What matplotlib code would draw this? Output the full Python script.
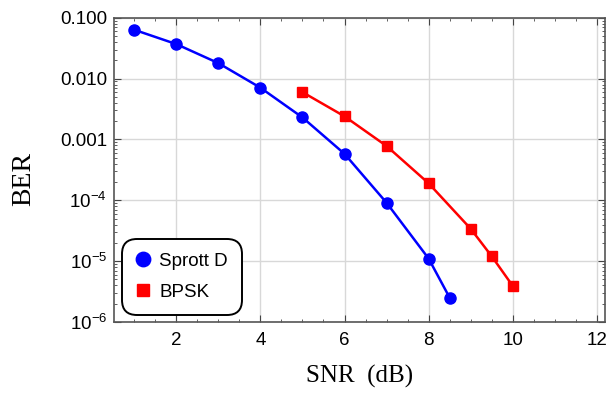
import numpy as np
import matplotlib.pyplot as plt
from matplotlib.ticker import FixedLocator, MultipleLocator, LogLocator, NullFormatter

# Sprott D curve
snr_sprott = [1, 2, 3, 4, 5, 6, 7, 8, 8.5]
ber_sprott = [0.0636, 0.037, 0.018, 0.0071, 0.0023, 0.00058, 9.1e-5, 1.1e-5, 2.5e-6]

# BPSK curve
snr_bpsk = [5, 6, 7, 8, 9, 9.5, 10]
ber_bpsk = [0.006, 0.0024, 0.00078, 0.00019, 3.4e-5, 1.2e-5, 3.9e-6]

y_ticks = [1e-6, 1e-5, 1e-4, 1e-3, 1e-2, 1e-1]
y_labels = ["$10^{-6}$", "$10^{-5}$", "$10^{-4}$", "0.001", "0.010", "0.100"]

plt.rcParams["mathtext.fontset"] = "custom"
plt.rcParams["mathtext.rm"] = "Liberation Sans"
plt.rcParams["mathtext.it"] = "Liberation Sans:italic"

fig = plt.figure(figsize=(6.11, 3.96), dpi=100)
ax = fig.add_axes([0.1866, 0.187, 0.8034, 0.768])

ax.plot(snr_sprott, ber_sprott, color="#0000ff", lw=1.8, marker="o", ms=8,
        label="Sprott D")
ax.plot(snr_bpsk, ber_bpsk, color="#ff0000", lw=1.8, marker="s", ms=6.5,
        label="BPSK")

ax.set_yscale("log")
ax.set_xlim(0.52, 12.19)
ax.set_ylim(1e-6, 0.1)

ax.set_xticks([2, 4, 6, 8, 10, 12])
ax.xaxis.set_minor_locator(MultipleLocator(0.5))
ax.yaxis.set_major_locator(FixedLocator(y_ticks))
ax.set_yticklabels(y_labels)
ax.yaxis.set_minor_locator(LogLocator(base=10, subs=np.arange(2, 10)))
ax.yaxis.set_minor_formatter(NullFormatter())

for lab in ax.get_xticklabels() + ax.get_yticklabels():
    lab.set_fontfamily("Liberation Sans")
    lab.set_fontsize(13.5)

ax.tick_params(which="both", direction="in", top=True, right=True, color="#444444")
ax.tick_params(which="major", length=5, width=0.8)
ax.tick_params(which="minor", length=2.5, width=0.6)
ax.tick_params(axis="x", which="major", pad=7)
ax.tick_params(axis="y", which="major", pad=5)

ax.grid(True, which="major", color="#d8d8d8", lw=1)
ax.set_axisbelow(True)
for s in ax.spines.values():
    s.set_color("#555555")
    s.set_linewidth(1.2)

ax.set_xlabel("SNR  (dB)", fontfamily="Liberation Serif", fontsize=18)
ax.xaxis.set_label_coords(0.5, -0.14)
ax.set_ylabel("BER", fontfamily="Liberation Serif", fontsize=20)
ax.yaxis.set_label_coords(-0.158, 0.47)

leg = ax.legend(loc="lower left", bbox_to_anchor=(0.016, 0.023), borderaxespad=0,
                frameon=True, fancybox=True, edgecolor="black", framealpha=1,
                prop={"family": "Liberation Sans", "size": 13.5},
                handlelength=0.8, markerscale=1.3, borderpad=0.75, labelspacing=0.75,
                handletextpad=0.45)
for h in leg.legend_handles:
    h.set_linestyle("none")
leg.get_frame().set_linewidth(1.4)
leg.get_frame().set_boxstyle("round", pad=0.0, rounding_size=0.8)

fig.savefig("out.png", dpi=100)
